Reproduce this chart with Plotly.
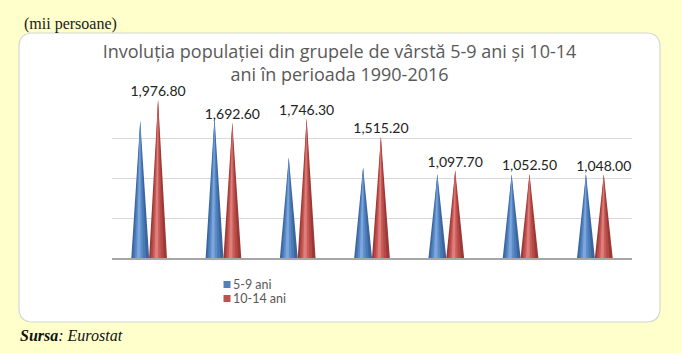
import plotly.graph_objects as go

# ---- data ----
categories = ["1990", "1995", "2000", "2005", "2010", "2015", "2016"]
age_5_9 = [1716, 1759, 1256, 1131, 1050, 1046, 1052]
age_10_14 = [1976.80, 1692.60, 1746.30, 1515.20, 1097.70, 1052.50, 1048.00]
series_names = ["5-9 ani", "10-14 ani"]
title_text = "Involuția populației din grupele de vârstă 5-9 ani și 10-14<br>ani în perioada 1990-2016"
unit_text = "(mii persoane)"
source_text = "<b><i>Sursa</i></b><i>: Eurostat</i>"

# ---- style ----
FONT = "Lato"
TFONT = "Open Sans"
BG = "#FFFFCC"
blue_layers = ["#3B659C", "#4A7AB6", "#5C8DCA", "#7DA6DB"]
red_layers = ["#9C3835", "#B44A47", "#C95C59", "#DE7F7C"]
BLUE = "#4F81BD"
RED = "#C0504D"

W_PX, H_PX = 682, 353
L, R, T, B = 112, 632, 98, 258
PW, PH = R - L, B - T


def px_x(px):
    return (px - L) / PW


def px_y(py):
    return (B - py) / PH


half_w = 0.12
offsets = [-0.12, 0.12]

fig = go.Figure()


def cone_trace(values, center_off, frac, shift, color):
    xs, ys = [], []
    for i, v in enumerate(values):
        c = i + center_off + shift * half_w
        hw = half_w * frac
        xs += [c - hw, i + center_off, c + hw, c - hw, None]
        ys += [0, v, 0, 0, None]
    return go.Scatter(x=xs, y=ys, mode="lines", fill="toself", fillcolor=color,
                      line=dict(width=0, color=color), hoverinfo="skip",
                      showlegend=False)


fracs = [1.0, 0.72, 0.45, 0.2]
shifts = [0.0, -0.08, -0.14, -0.18]
for values, off, layers in [(age_5_9, offsets[0], blue_layers),
                            (age_10_14, offsets[1], red_layers)]:
    for frac, sh, col in zip(fracs, shifts, layers):
        fig.add_trace(cone_trace(values, off, frac, sh, col))

# data labels on 10-14 series
fig.add_trace(go.Scatter(
    x=[i + offsets[1] for i in range(len(categories))], y=age_10_14,
    mode="text", text=[f"{v:,.2f}" for v in age_10_14],
    textposition="top center",
    textfont=dict(family=FONT, size=14, color="#222222"),
    cliponaxis=False, showlegend=False, hoverinfo="skip"))

# white rounded panel
x0, x1, y0, y1, r = 19, 660, 33, 322, 14


def P(px, py):
    return f"{px_x(px):.5f},{px_y(py):.5f}"


path = (f"M {P(x0 + r, y0)} L {P(x1 - r, y0)} Q {P(x1, y0)} {P(x1, y0 + r)} "
        f"L {P(x1, y1 - r)} Q {P(x1, y1)} {P(x1 - r, y1)} "
        f"L {P(x0 + r, y1)} Q {P(x0, y1)} {P(x0, y1 - r)} "
        f"L {P(x0, y0 + r)} Q {P(x0, y0)} {P(x0 + r, y0)} Z")

shapes = [dict(type="path", path=path, xref="paper", yref="paper",
               fillcolor="white", line=dict(color="#D6D6D6", width=1.2),
               layer="below")]

# legend (manual, compact like the original)
leg_x, leg_y = 227, [284.5, 298.5]
for col, yy in zip([BLUE, RED], leg_y):
    shapes.append(dict(type="rect", xref="paper", yref="paper",
                       x0=px_x(leg_x - 3.5), x1=px_x(leg_x + 3.5),
                       y0=px_y(yy + 3.5), y1=px_y(yy - 3.5),
                       fillcolor=col, line=dict(width=0)))

annotations = []
for name, yy in zip(series_names, leg_y):
    annotations.append(dict(text=name, xref="paper", yref="paper",
                            x=px_x(leg_x + 5), y=px_y(yy), xanchor="left",
                            yanchor="middle", showarrow=False, borderpad=0,
                            font=dict(family=FONT, size=12.5, color="#595959")))

annotations.append(dict(text=unit_text, xref="paper", yref="paper",
                        x=px_x(22), y=px_y(24), xanchor="left", yanchor="middle",
                        showarrow=False,
                        font=dict(family="Liberation Serif", size=16, color="#1A1A1A")))
annotations.append(dict(text=source_text, xref="paper", yref="paper",
                        x=px_x(18), y=px_y(335), xanchor="left", yanchor="middle",
                        showarrow=False,
                        font=dict(family="Liberation Serif", size=16, color="#111111")))

fig.update_layout(
    width=W_PX, height=H_PX,
    margin=dict(l=L, r=W_PX - R, t=T, b=H_PX - B, pad=0),
    paper_bgcolor=BG, plot_bgcolor="white",
    title=dict(text=title_text, xref="container", yref="container",
               x=339.5 / W_PX, y=1 - 58 / H_PX, xanchor="center", yanchor="middle",
               font=dict(family=TFONT, size=18, color="#595959")),
    xaxis=dict(range=[-0.5, len(categories) - 0.5], tickvals=list(range(len(categories))),
               ticktext=categories, showticklabels=False, showgrid=False,
               zeroline=False, showline=True, linecolor="#A6A6A6", linewidth=1.5,
               ticks=""),
    yaxis=dict(range=[0, 2000], dtick=500, showticklabels=False, showgrid=True,
               gridcolor="#D9D9D9", gridwidth=1, zeroline=False, ticks=""),
    shapes=shapes, annotations=annotations, showlegend=False,
)

fig.write_html("out.html")
